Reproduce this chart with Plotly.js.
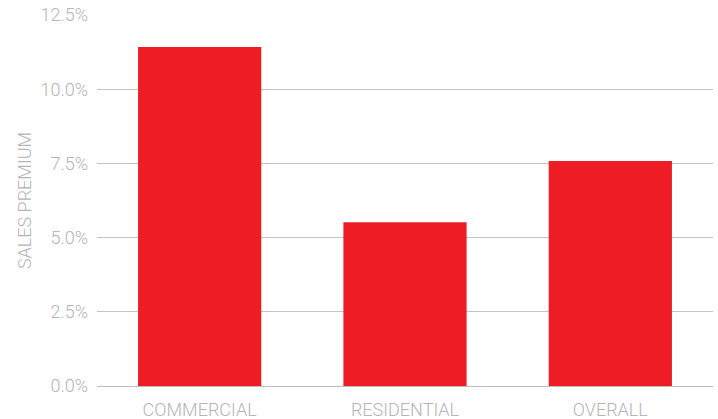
<!DOCTYPE html>
<html>
<head>
<meta charset="utf-8">
<script src="https://cdn.plot.ly/plotly-3.0.1.min.js"></script>
<style>html,body{margin:0;padding:0;background:#fff;}#chart{width:718px;height:419px;}</style>
</head>
<body>
<div id="chart"></div>
<script>
const categories = ["COMMERCIAL", "RESIDENTIAL", "OVERALL"];
const salesPremium = [11.42, 5.52, 7.58];
const yTickValues = [0, 2.5, 5, 7.5, 10, 12.5];
const yTickLabels = ["0.0%", "2.5%", "5.0%", "7.5%", "10.0%", "12.5%"];
const yAxisTitle = "SALES PREMIUM";

const labelFont = {family: "Roboto, sans-serif", size: 18, color: "#b5b5b5", weight: 300};

Plotly.newPlot("chart", [{
  type: "bar",
  x: categories,
  y: salesPremium,
  marker: {color: "#ee1c25"},
  hoverinfo: "none"
}], {
  width: 718, height: 419,
  margin: {l: 97, r: 5, t: 15, b: 33},
  paper_bgcolor: "#fff", plot_bgcolor: "#fff",
  bargap: 0.4,
  showlegend: false,
  xaxis: {
    tickfont: labelFont,
    showgrid: false, showline: false, zeroline: false,
    ticks: "", ticklabelstandoff: 11
  },
  yaxis: {
    range: [0, 12.5],
    tickvals: yTickValues, ticktext: yTickLabels,
    tickfont: labelFont,
    showgrid: true, gridcolor: "#c4c4c4", gridwidth: 1,
    zeroline: true, zerolinecolor: "#bcbcbc", zerolinewidth: 1,
    showline: false, ticks: "", ticklabelstandoff: 8,
    title: {text: yAxisTitle, font: labelFont, standoff: 4}
  }
}, {displayModeBar: false, staticPlot: true});
</script>
</body>
</html>
